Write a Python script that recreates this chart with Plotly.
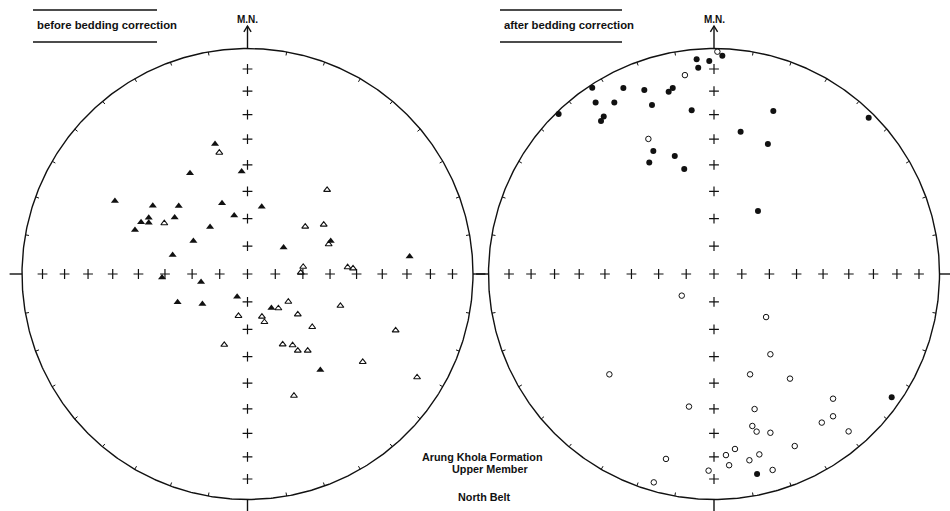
import numpy as np
import plotly.graph_objects as go

# Equal-area (Schmidt) net coordinates of the magnetisation directions,
# x = east, y = north, in units of the primitive circle radius.
# "down" = lower hemisphere (solid symbols), "up" = upper hemisphere (open symbols).

# ---- before bedding correction ----
before_down_x = [-0.144, -0.255, -0.026, -0.588, -0.420, -0.305, -0.113, 0.063, -0.059,
                 -0.323, -0.438, -0.438, -0.472, -0.499, -0.166, -0.240, -0.332, 0.160,
                 0.369, 0.719, -0.379, -0.206, -0.310, -0.200, -0.046, 0.106, 0.323]
before_down_y = [0.577, 0.447, 0.454, 0.324, 0.303, 0.302, 0.314, 0.298, 0.259,
                 0.251, 0.250, 0.227, 0.229, 0.195, 0.208, 0.146, 0.084, 0.118,
                 0.146, 0.078, -0.015, -0.035, -0.125, -0.133, -0.101, -0.151, -0.426]
before_up_x = [-0.125, -0.369, 0.256, 0.338, 0.360, 0.247, 0.236, 0.444, 0.468,
               0.137, 0.181, -0.040, 0.064, 0.075, 0.223, 0.412, 0.287, 0.657,
               -0.103, 0.156, 0.200, 0.223, 0.267, 0.511, 0.752, 0.206, 0.353]
before_up_y = [0.538, 0.225, 0.210, 0.219, 0.132, 0.032, 0.006, 0.030, 0.025,
               -0.152, -0.123, -0.186, -0.189, -0.213, -0.179, -0.141, -0.235, -0.250,
               -0.314, -0.312, -0.316, -0.340, -0.340, -0.390, -0.458, -0.540, 0.373]

# ---- after bedding correction ----
after_down_x = [0.037, -0.077, -0.021, -0.070, -0.540, -0.402, -0.309, -0.183, -0.201,
                -0.525, -0.442, -0.275, -0.099, -0.689, -0.489, -0.501, 0.118, -0.269,
                -0.174, -0.287, -0.132, 0.263, 0.239, 0.686, 0.195, 0.788, 0.191]
after_down_y = [0.968, 0.952, 0.945, 0.915, 0.826, 0.825, 0.816, 0.825, 0.808,
                0.761, 0.760, 0.749, 0.726, 0.710, 0.698, 0.678, 0.631, 0.545,
                0.523, 0.494, 0.466, 0.723, 0.576, 0.693, 0.279, -0.547, -0.887]
after_up_x = [0.015, -0.129, -0.291, -0.143, 0.231, 0.250, -0.464, 0.160, 0.337,
              0.528, -0.111, 0.180, 0.528, 0.478, 0.170, 0.189, 0.250, 0.597,
              0.358, 0.093, 0.053, 0.201, -0.213, 0.157, 0.067, -0.024, 0.260, -0.267]
after_up_y = [0.986, 0.882, 0.599, -0.096, -0.191, -0.356, -0.445, -0.445, -0.464,
              -0.553, -0.588, -0.599, -0.631, -0.659, -0.674, -0.699, -0.704, -0.698,
              -0.763, -0.776, -0.803, -0.800, -0.820, -0.826, -0.848, -0.872, -0.869, -0.924]

panel_titles = ["before bedding correction", "after bedding correction"]
north_label = "M.N."
caption_lines = ["Arung Khola Formation", "Upper Member", "North Belt"]

# ---- page geometry (pixels) ----
W, H = 950, 511
R_PX = 225.5            # primitive circle radius
CY_PX = 274.0           # common centre height
CX_PX = [247.5, 714.0]  # centres of the two nets

FONT = "Liberation Sans, Arial, sans-serif"
INK = "#111111"


def net_range(cx):
    return [-cx / R_PX, (W - cx) / R_PX]


def schmidt_r(inc_deg):
    return np.sqrt(2.0) * np.sin(np.radians(90.0 - inc_deg) / 2.0)


fig = go.Figure()


def net_frame(xref, yref="y"):
    """Primitive circle, 10-degree ticks, axis crosses and the north arrow."""
    t = np.linspace(0, 2 * np.pi, 721)
    fig.add_trace(go.Scatter(x=np.cos(t), y=np.sin(t), mode="lines",
                             line=dict(color=INK, width=1.4), xaxis=xref, yaxis=yref,
                             hoverinfo="skip", showlegend=False))
    # inward ticks every 10 degrees of azimuth
    tx, ty = [], []
    for az in range(10, 360, 10):
        if az % 90 == 0:
            continue
        a = np.radians(az)
        tx += [np.sin(a), 0.984 * np.sin(a), None]
        ty += [np.cos(a), 0.984 * np.cos(a), None]
    fig.add_trace(go.Scatter(x=tx, y=ty, mode="lines", line=dict(color=INK, width=1),
                             xaxis=xref, yaxis=yref, hoverinfo="skip", showlegend=False))
    # crosses every 10 degrees of inclination along the N-S and E-W lines
    cx, cy = [0.0], [0.0]
    for inc in range(10, 90, 10):
        r = schmidt_r(inc)
        cx += [r, -r, 0, 0]
        cy += [0, 0, r, -r]
    fig.add_trace(go.Scatter(x=cx, y=cy, mode="markers",
                             marker=dict(symbol="cross-thin", size=7,
                                         line=dict(color=INK, width=1.2)),
                             xaxis=xref, yaxis=yref, hoverinfo="skip", showlegend=False))
    # outer stubs (E, S, W) and north arrow
    tip = (CY_PX - 26) / R_PX
    sx = [1.0, 1.055, None, 0, 0, None, -1.0, -1.055, None,
          0, 0, None, -0.016, 0, 0.016]
    sy = [0, 0, None, -1.0, -1.06, None, 0, 0, None,
          1.0, tip, None, tip - 0.026, tip, tip - 0.026]
    fig.add_trace(go.Scatter(x=sx, y=sy, mode="lines", line=dict(color=INK, width=1.4),
                             xaxis=xref, yaxis=yref, hoverinfo="skip", showlegend=False))
    fig.add_annotation(x=0, y=(CY_PX - 19) / R_PX, xref=xref, yref=yref,
                       text="<b>" + north_label + "</b>", showarrow=False,
                       font=dict(family=FONT, size=10, color=INK),
                       xanchor="center", yanchor="middle")


def points(xs, ys, symbol, size, xref, lw=1.0):
    fig.add_trace(go.Scatter(x=xs, y=ys, mode="markers", xaxis=xref, yaxis="y",
                             marker=dict(symbol=symbol, size=size, color=INK,
                                         line=dict(color=INK, width=lw)),
                             hoverinfo="skip", showlegend=False))


net_frame("x")
net_frame("x2")

points(before_down_x, before_down_y, "triangle-up", 7, "x", 0)
points(before_up_x, before_up_y, "triangle-up-open", 6, "x", 1.1)
points(after_down_x, after_down_y, "circle", 6, "x2", 0)
points(after_up_x, after_up_y, "circle-open", 5.5, "x2", 1.0)

# header labels with rules above and below
for title, x0, x1, tx in [(panel_titles[0], 33, 157, 35),
                          (panel_titles[1], 500, 622, 502)]:
    for y_px in (10, 42):
        fig.add_shape(type="line", xref="paper", yref="paper",
                      x0=x0 / W, x1=x1 / W, y0=1 - y_px / H, y1=1 - y_px / H,
                      line=dict(color=INK, width=1.3))
    fig.add_annotation(x=tx / W, y=1 - 25 / H, xref="paper", yref="paper",
                       text="<b>" + title + "</b>", showarrow=False,
                       font=dict(family=FONT, size=11.3, color=INK),
                       xanchor="left", yanchor="middle")

# caption between the two nets
for text, x_px, y_px in [(caption_lines[0], 482.5, 457),
                         (caption_lines[1], 490, 469),
                         (caption_lines[2], 484.5, 497)]:
    fig.add_annotation(x=x_px / W, y=1 - y_px / H, xref="paper", yref="paper",
                       text="<b>" + text + "</b>", showarrow=False,
                       font=dict(family=FONT, size=10.8, color=INK),
                       xanchor="center", yanchor="middle")

axis_style = dict(visible=False, showgrid=False, zeroline=False, fixedrange=True)
fig.update_layout(
    width=W, height=H,
    margin=dict(l=0, r=0, t=0, b=0),
    paper_bgcolor="white", plot_bgcolor="white",
    xaxis=dict(range=net_range(CX_PX[0]), domain=[0, 1], **axis_style),
    xaxis2=dict(range=net_range(CX_PX[1]), domain=[0, 1], overlaying="x",
                anchor="y", **axis_style),
    yaxis=dict(range=[-(H - CY_PX) / R_PX, CY_PX / R_PX], domain=[0, 1], **axis_style),
    showlegend=False,
)

fig.write_html("out.html")
